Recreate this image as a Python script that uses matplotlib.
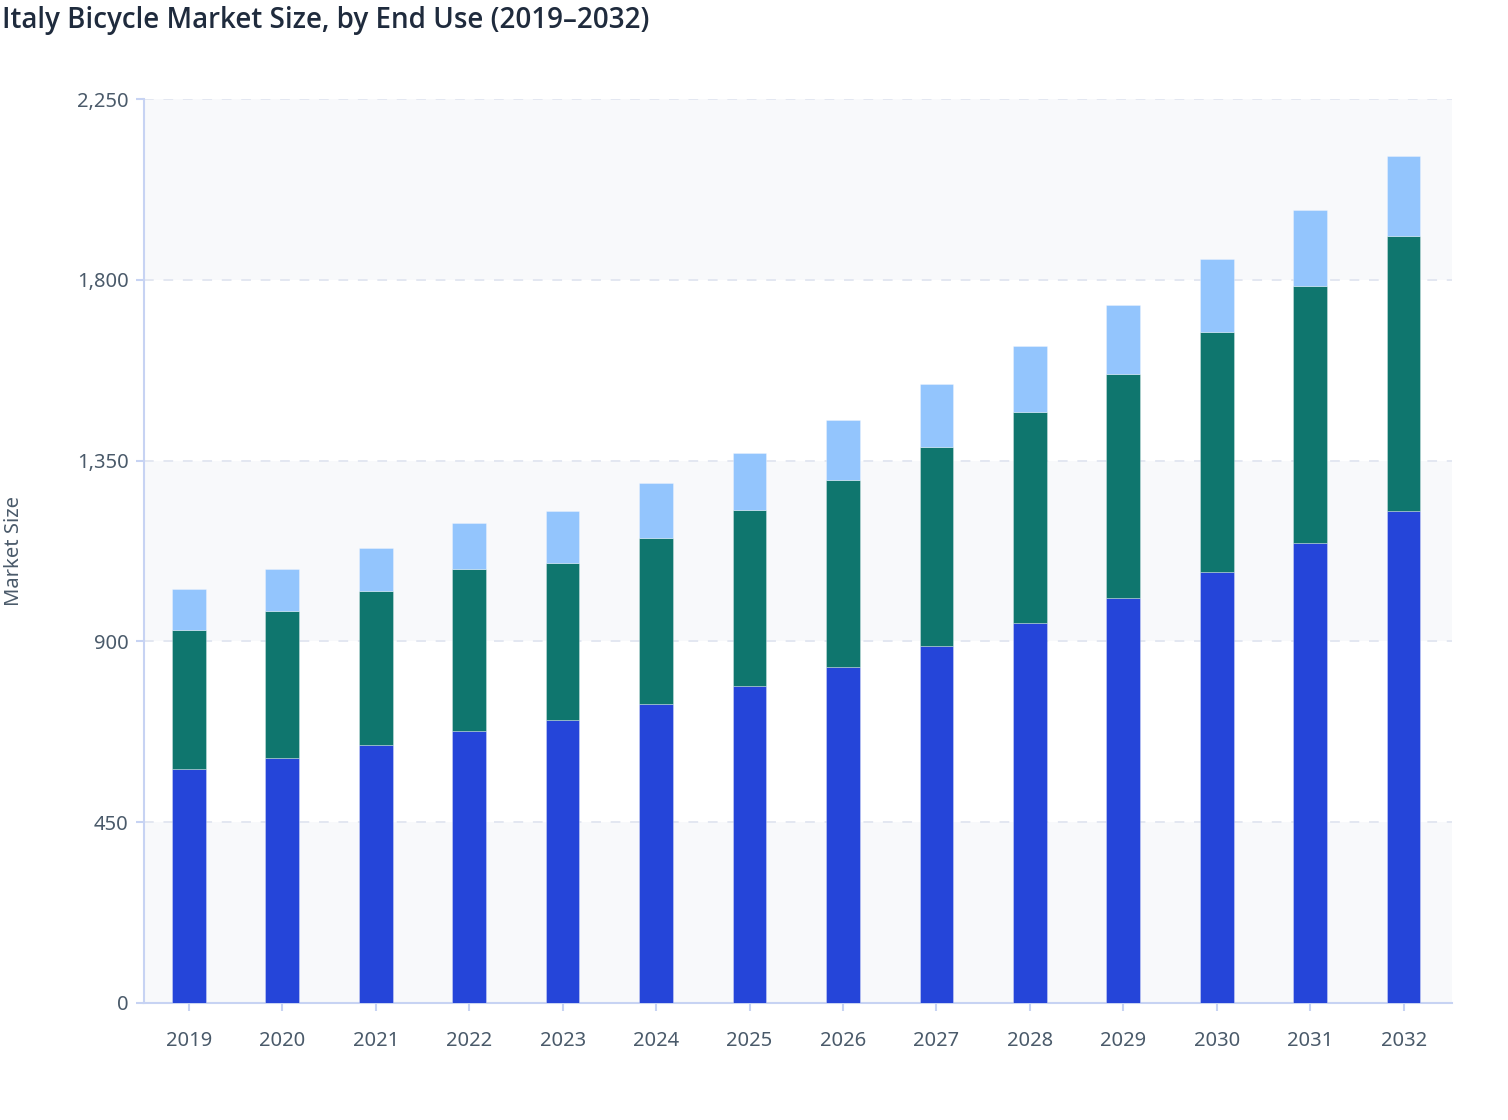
import numpy as np
import matplotlib
matplotlib.use("Agg")
import matplotlib.pyplot as plt
from matplotlib.ticker import FuncFormatter

plt.rcParams['font.family'] = ['Noto Sans', 'DejaVu Sans']

# data
years = ['2019', '2020', '2021', '2022', '2023', '2024', '2025',
         '2026', '2027', '2028', '2029', '2030', '2031', '2032']
personal = [582, 610, 642, 677, 704, 744, 789, 836, 889, 946, 1008, 1073, 1145, 1225]
commercial = [346, 366, 383, 403, 391, 413, 438, 466, 495, 525, 558, 597, 640, 684]
other = [102, 104, 107, 115, 130, 137, 142, 149, 157, 164, 171, 182, 189, 199]
y_ticks = [0, 450, 900, 1350, 1800, 2250]

colors = ['#2545d9', '#0f766e', '#93c5fd']
axis_col = '#c7d3f3'
text_col = '#4a5a6a'

fig = plt.figure(figsize=(15.08, 11.2), dpi=100)
ax = fig.add_axes([0.0955, 0.1045, 0.8675, 0.807])

# alternating background bands
for i in range(0, len(y_ticks) - 1, 2):
    ax.axhspan(y_ticks[i], y_ticks[i + 1], color='#f8f9fb', zorder=0, lw=0)

x = np.arange(len(years))
w = 0.36
bottom = np.zeros(len(years))
for vals, c in zip([personal, commercial, other], colors):
    ax.bar(x, vals, w, bottom=bottom, color=c, edgecolor=(1, 1, 1, 0.35),
           linewidth=0.6, zorder=3)
    bottom += np.array(vals)

ax.set_xlim(-0.48, len(years) - 0.48)
ax.set_ylim(0, 2250)
ax.set_xticks(x)
ax.set_xticklabels(years)
ax.set_yticks(y_ticks)
ax.yaxis.set_major_formatter(FuncFormatter(lambda v, p: f'{int(v):,}'))

ax.grid(axis='y', color='#e3e7f1', linestyle=(0, (5, 5)), linewidth=1.4, zorder=1)
ax.set_axisbelow(True)

for s in ['top', 'right']:
    ax.spines[s].set_visible(False)
for s in ['left', 'bottom']:
    ax.spines[s].set_color(axis_col)
    ax.spines[s].set_linewidth(1.5)

ax.tick_params(axis='both', colors=axis_col, labelcolor=text_col, labelsize=14.5,
               length=6, width=1.5)
ax.tick_params(axis='x', pad=14)
ax.tick_params(axis='y', pad=5)

ax.set_ylabel('Market Size', color=text_col, fontsize=14.5)
ax.yaxis.set_label_coords(-0.092, 0.5)

fig.text(0.0015, 0.995, 'Italy Bicycle Market Size, by End Use (2019\u20132032)',
         fontsize=20, color='#1f2b3d', weight=600, ha='left', va='top',
         family=['Open Sans', 'Noto Sans', 'DejaVu Sans'])

fig.savefig('out.png', dpi=100, facecolor='white')
